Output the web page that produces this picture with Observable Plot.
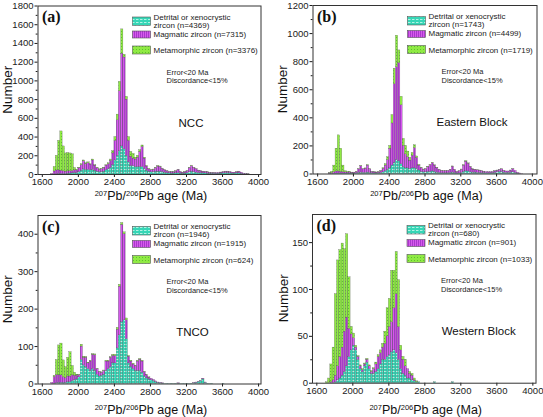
<!DOCTYPE html>
<html><head><meta charset="utf-8">
<script src="https://cdn.jsdelivr.net/npm/d3@7"></script>
<script src="https://cdn.jsdelivr.net/npm/@observablehq/plot@0.6"></script>
<style>
html,body{margin:0;padding:0;background:#fff;}
#wrap{position:relative;width:543px;height:417px;overflow:hidden;background:#fff;}
#wrap svg{position:absolute;}
</style></head><body><div id="wrap"></div>
<script>
// ---------- DATA ----------
const ages = [1700,1725,1750,1775,1800,1825,1850,1875,1900,1925,
1950,1975,2000,2025,2050,2075,2100,2125,2150,2175,
2200,2225,2250,2275,2300,2325,2350,2375,2400,2425,
2450,2475,2500,2525,2550,2575,2600,2625,2650,2675,
2700,2725,2750,2775,2800,2825,2850,2875,2900,2925,
2950,2975,3000,3025,3050,3075,3100,3125,3150,3175,
3200,3225,3250,3275,3300,3325,3350,3375,3400,3425,
3450,3475,3500,3525,3550,3575,3600,3625,3650,3675,
3700,3725,3750,3775,3800,3825,3850,3875];
const binWidth = 25;
const seriesNames = ["Detrital", "Magmatic", "Metamorphic"];
const xTickValues = [1600, 2000, 2400, 2800, 3200, 3600, 4000];

// (a) NCC
const nccDetrital = [0,2,3,5,5,5,5,8,10,12, 15,15,25,40,55,50,50,45,50,40, 30,25,25,30,45,55,70,100,150,200,
250,300,270,200,130,90,90,80,80,80, 80,60,40,30,25,25,30,30,30,25, 20,15,12,10,10,12,15,10,8,10,
15,25,30,25,20,15,15,12,12,10, 8,8,7,7,8,10,12,15,15,12, 10,10,12,12,8,4,2,1];
const nccMagmatic = [5,30,40,40,35,30,25,25,25,25, 30,30,40,60,85,60,70,60,100,55, 35,25,30,35,50,55,75,125,210,380,
640,990,980,600,230,100,80,80,100,160, 215,110,45,25,20,25,35,55,50,35, 25,20,15,12,12,20,35,15,10,12,
20,40,60,45,35,25,20,18,15,12, 10,8,8,8,8,10,12,15,15,12, 10,10,12,18,12,6,3,1];
const nccMetamorphic = [0,48,157,315,420,265,195,197,190,178, 25,5,5,10,10,10,10,5,10,5, 5,5,5,5,5,10,15,25,40,60,
100,260,30,30,40,50,50,20,20,20, 15,10,5,5,3,3,5,5,5,3, 2,2,2,1,1,2,2,1,1,1,
2,3,5,3,2,2,2,1,1,1, 1,1,1,0,0,1,1,1,1,1, 0,0,1,1,0,0,0,0];
const nccCounts = [4369, 7315, 3376];
const nccYTicks = [0,200,400,600,800,1000,1200,1400,1600,1800];

// (b) Eastern Block
const eastDetrital = [0,1,1,2,3,3,3,3,3,3, 3,3,3,5,8,10,8,8,10,8, 5,4,4,5,8,12,20,30,40,60,
80,100,90,70,50,40,40,35,40,40, 35,25,15,12,12,15,15,18,15,10, 8,6,5,5,6,8,10,7,4,5,
8,15,20,18,12,10,10,8,8,7, 6,6,5,5,6,8,12,15,15,10, 8,8,10,12,8,3,1,0];
const eastMagmatic = [0,3,4,10,15,15,12,10,8,7, 8,6,6,10,25,45,25,30,50,25, 10,7,6,8,12,25,40,70,140,300,
560,660,700,420,150,100,80,60,90,145, 80,35,25,18,22,32,48,60,45,30, 22,16,14,15,15,22,42,22,10,14,
22,45,68,55,38,22,20,18,16,13, 10,8,8,8,8,10,12,14,18,12, 10,10,14,22,14,6,3,1];
const eastMetamorphic = [0,2,10,48,162,257,165,47,9,5, 4,1,1,2,2,3,2,2,3,2, 1,1,1,2,2,5,10,20,20,60,
110,225,90,60,50,60,40,20,20,20, 10,5,3,2,2,3,3,3,2,2, 1,1,1,1,1,1,2,1,1,1,
2,3,4,3,2,2,1,1,1,1, 1,0,0,0,0,1,1,1,1,1, 0,0,1,1,0,0,0,0];
const eastCounts = [1743, 4499, 1719];
const eastYTicks = [0,200,400,600,800,1000,1200];

// (c) TNCO
const tncoDetrital = [0,1,2,3,3,3,3,5,5,8, 10,12,18,65,50,45,40,35,40,35, 25,20,22,25,35,40,45,55,55,95,
130,165,170,120,55,45,40,35,35,35, 30,20,15,12,10,8,5,3,2,1, 1,1,1,1,1,1,1,1,1,1,
1,1,1,2,3,5,8,12,3,1, 1,1,0,0,0,0,1,0,0,0, 0,0,0,0,0,0,0,0];
const tncoMagmatic = [3,18,22,20,20,15,12,15,15,15, 12,10,6,35,20,25,15,25,38,42, 15,12,8,10,25,20,25,20,20,50,
130,260,230,50,18,15,12,12,25,30, 30,12,8,5,4,3,2,1,1,1, 0,0,0,0,0,0,1,0,0,0,
0,0,0,1,1,1,1,2,1,0, 0,0,0,0,0,0,0,0,0,0, 0,0,0,0,0,0,0,0];
const tncoMetamorphic = [0,3,40,80,85,45,30,50,65,25, 8,3,1,5,3,2,2,2,2,2, 1,1,1,1,2,2,2,3,3,5,
5,5,5,5,2,2,2,2,2,2, 2,1,1,1,0,0,0,0,0,0, 0,0,0,0,0,0,0,0,0,0,
0,0,0,0,0,0,0,0,0,0, 0,0,0,0,0,0,0,0,0,0, 0,0,0,0,0,0,0,0];
const tncoCounts = [1946, 1915, 624];
const tncoYTicks = [0,100,200,300,400];

// (d) Western Block
const westDetrital = [0,0,0,0,1,3,5,8,12,18, 28,35,40,35,25,15,12,18,22,15, 10,10,12,15,20,25,25,28,30,33,
35,32,25,15,10,8,5,5,3,2, 1,1,0,0,0,0,0,0,1,0, 0,0,0,0,0,0,1,0,0,0,
0,0,0,0,0,0,0,0,0,0, 0,0,0,0,0,0,0,0,0,0, 0,0,0,0,0,0,0,0];
const westMagmatic = [0,0,1,3,7,15,23,30,43,52, 30,17,8,3,3,3,2,2,3,3, 2,5,8,13,12,13,17,22,30,32,
45,63,35,20,15,10,10,5,5,1, 0,0,0,0,0,0,0,0,0,0, 0,0,0,0,0,0,0,0,0,0,
0,0,0,0,0,0,0,0,0,0, 0,0,0,0,0,0,0,0,0,0, 0,0,0,0,0,0,0,0];
const westMetamorphic = [1,5,19,35,87,113,114,111,88,89, 55,8,5,2,1,1,1,1,1,1, 1,1,2,2,3,4,13,30,30,55,
40,45,50,5,3,7,0,2,2,2, 1,0,0,0,0,0,0,0,0,0, 0,0,0,0,0,0,0,0,0,0,
0,0,0,0,0,0,0,0,0,0, 0,0,0,0,0,0,0,0,0,0, 0,0,0,0,0,0,0,0];
const westCounts = [680, 901, 1033];
const westYTicks = [0,50,100,150];

// ---------- PANELS ----------
const panels = [
  {key:"a", tag:"(a)", region:"NCC", D:nccDetrital, M:nccMagmatic, G:nccMetamorphic, counts:nccCounts, yMax:1800, yTicks:nccYTicks},
  {key:"b", tag:"(b)", region:"Eastern Block", D:eastDetrital, M:eastMagmatic, G:eastMetamorphic, counts:eastCounts, yMax:1200, yTicks:eastYTicks},
  {key:"c", tag:"(c)", region:"TNCO", D:tncoDetrital, M:tncoMagmatic, G:tncoMetamorphic, counts:tncoCounts, yMax:450, yTicks:tncoYTicks},
  {key:"d", tag:"(d)", region:"Western Block", D:westDetrital, M:westMagmatic, G:westMetamorphic, counts:westCounts, yMax:180, yTicks:westYTicks}
];

// ---------- LAYOUT ----------
const layout = {
  a: {left:0,   top:0,   w:272, h:208, fl:37.5, fr:260.5, ft:5.5, fb:174,   xDom:[1552,4027], regionX:153.5, xTitleY:200, yLabX:12},
  b: {left:272, top:0,   w:271, h:208, fl:312.5,fr:536.5, ft:5,   fb:173.5, xDom:[1548,4052], regionX:159.5, xTitleY:200, yLabX:15},
  c: {left:0,   top:208, w:272, h:209, fl:37.5, fr:260.5, ft:215, fb:383.5, xDom:[1552,4027], regionX:155,   xTitleY:206, yLabX:12},
  d: {left:272, top:208, w:271, h:209, fl:312,  fr:535.5, ft:214, fb:382.7, xDom:[1552,4035], regionX:166.7, xTitleY:206, yLabX:16}
};
const FONT = "'Liberation Sans', Arial, sans-serif";
const SERIF = "'Liberation Serif', 'Times New Roman', serif";

function buildRows(D, M, G) {
  const rows = [];
  ages.forEach((a, i) => {
    let base = 0;
    [[seriesNames[0], D[i]], [seriesNames[1], M[i]], [seriesNames[2], G[i]]].forEach(([s, v]) => {
      if (v > 0) rows.push({x1: a, x2: a + binWidth, y1: base, y2: base + v, series: s});
      base += v;
    });
  });
  return rows;
}

function addPatterns(svg, key) {
  const defs = d3.select(svg).insert("defs", ":first-child");
  let p = defs.append("pattern").attr("id", key + "-Detrital").attr("patternUnits", "userSpaceOnUse").attr("width", 4).attr("height", 3);
  p.append("rect").attr("width", 4).attr("height", 3).attr("fill", "#36d6b6");
  p.append("rect").attr("x", 0).attr("y", 1).attr("width", 2.5).attr("height", 1).attr("fill", "#b2f3e4");
  p = defs.append("pattern").attr("id", key + "-Magmatic").attr("patternUnits", "userSpaceOnUse").attr("width", 2).attr("height", 2);
  p.append("rect").attr("width", 2).attr("height", 2).attr("fill", "#d65aec");
  p.append("rect").attr("width", 0.8).attr("height", 2).attr("fill", "#9e30c4");
  p = defs.append("pattern").attr("id", key + "-Metamorphic").attr("patternUnits", "userSpaceOnUse").attr("width", 3).attr("height", 3);
  p.append("rect").attr("width", 3).attr("height", 3).attr("fill", "#90ea44");
  p.append("rect").attr("x", 1).attr("y", 1).attr("width", 1).attr("height", 1).attr("fill", "#5cc22e");
}

function txt(g, x, y, s, size, opts = {}) {
  const t = g.append("text").attr("x", x).attr("y", y)
    .attr("font-family", opts.family || FONT).attr("font-size", size)
    .attr("fill", opts.fill || "#111").attr("text-anchor", opts.anchor || "start");
  if (opts.weight) t.attr("font-weight", opts.weight);
  t.text(s);
  return t;
}

const wrap = document.getElementById("wrap");
panels.forEach(P => {
  const L = layout[P.key];
  const rows = buildRows(P.D, P.M, P.G);
  const step = P.yTicks[1] - P.yTicks[0];
  const minorY = P.yTicks.slice(0, -1).map(v => v + step / 2).filter(v => v < P.yMax);
  const svg = Plot.plot({
    width: L.w, height: L.h,
    marginLeft: L.fl - L.left, marginRight: L.left + L.w - L.fr,
    marginTop: L.ft - L.top, marginBottom: L.top + L.h - L.fb,
    x: {domain: L.xDom},
    y: {domain: [0, P.yMax]},
    color: {domain: seriesNames, range: seriesNames.map(s => `url(#${P.key}-${s})`)},
    style: {fontFamily: FONT, fontSize: "9.5px", color: "#1a1a1a", background: "white", overflow: "visible"},
    marks: [
      Plot.rect(rows, {x1: "x1", x2: "x2", y1: "y1", y2: "y2", fill: "series", stroke: "#4a4a4a", strokeWidth: 0.25}),
      Plot.axisX(xTickValues, {tickSize: 3, tickPadding: 1, tickFormat: d => String(d), label: null}),
      Plot.axisY(P.yTicks, {tickSize: 3, tickPadding: 1.5, tickFormat: d => String(d), label: null}),
      Plot.axisY(minorY, {tickSize: 1.8, tickFormat: () => "", label: null}),
      Plot.frame({stroke: "#333", strokeWidth: 1})
    ]
  });
  svg.style.left = L.left + "px";
  svg.style.top = L.top + "px";
  addPatterns(svg, P.key);
  const g = d3.select(svg).append("g");
  const fx = L.fl - L.left, fy = L.ft - L.top; // frame origin in svg coords
  // panel tag
  txt(g, fx + 4.5, fy + 16.5, P.tag, "16px", {family: SERIF, weight: "bold"});
  // legend
  const sw = [[11.5, 8.5], [25.5, 7], [40.5, 8]];
  seriesNames.forEach((s, i) => {
    g.append("rect").attr("x", fx + 95).attr("y", fy + sw[i][0]).attr("width", 18).attr("height", sw[i][1])
      .attr("fill", `url(#${P.key}-${s})`).attr("stroke", "#555").attr("stroke-width", 0.6);
  });
  txt(g, fx + 116, fy + 14.2, "Detrital or xenocrystic", "8px", {fill: "#222"});
  txt(g, fx + 116, fy + 22, `zircon (n=${P.counts[0]})`, "8px", {fill: "#222"});
  txt(g, fx + 116, fy + 31.2, `Magmatic zircon (n=${P.counts[1]})`, "8px", {fill: "#222"});
  txt(g, fx + 116, fy + 47.7, `Metamorphic zircon (n=${P.counts[2]})`, "8px", {fill: "#222"});
  txt(g, fx + 129, fy + 69, "Error<20 Ma", "7.5px", {fill: "#222"});
  txt(g, fx + 129, fy + 77.5, "Discordance<15%", "7.5px", {fill: "#222"});
  txt(g, fx + L.regionX, fy + 121, P.region, "11.5px", {anchor: "middle"});
  // y label
  g.append("text").attr("transform", `translate(${L.yLabX},${(L.ft + L.fb) / 2 - L.top}) rotate(-90)`)
    .attr("text-anchor", "middle").attr("font-family", FONT).attr("font-size", "13.5px").attr("fill", "#111").text("Number");
  // x title with superscripts
  const cx = (L.fl + L.fr) / 2 - L.left + 2;
  const t = g.append("text").attr("x", cx).attr("y", L.xTitleY).attr("text-anchor", "middle")
    .attr("font-family", FONT).attr("font-size", "12.5px").attr("fill", "#111");
  t.append("tspan").attr("font-size", "7.5px").attr("dy", -4.5).text("207");
  t.append("tspan").attr("dy", 4.5).text("Pb/");
  t.append("tspan").attr("font-size", "7.5px").attr("dy", -4.5).text("206");
  t.append("tspan").attr("dy", 4.5).text("Pb age (Ma)");
  wrap.appendChild(svg);
});
</script></body></html>
